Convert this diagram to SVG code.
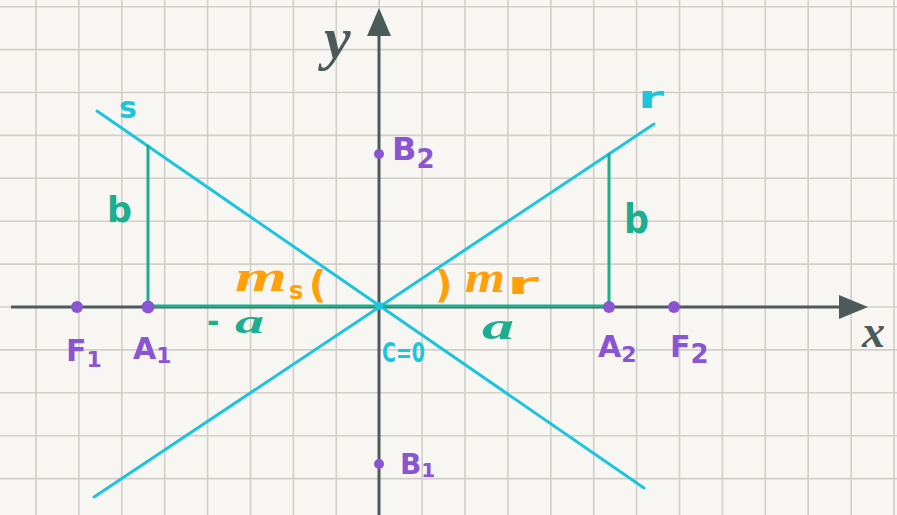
<svg xmlns="http://www.w3.org/2000/svg" width="897" height="515" viewBox="0 0 897 515">
<defs>
<style>
.grid{stroke:#d2cec8;stroke-width:1.6;fill:none}
.axis{stroke:#4c5a59;stroke-width:3;fill:none}
.axhead{fill:#4c5a59}
.asym{stroke:#1cc4de;stroke-width:3;fill:none;stroke-linecap:round}
.leg{stroke:#1bae8f;stroke-width:3;fill:none;stroke-linecap:round}
.pt{fill:#8a55d2}
.lbl{font-family:"DejaVu Sans","Liberation Sans",sans-serif;font-weight:bold}
.hand{font-family:"Liberation Serif",serif;font-style:italic;font-weight:bold}
.purple{fill:#8a55d2}
.cyan{fill:#1cc4de}
.green{fill:#1bae8f}
.orange{fill:#ff9f0a}
.dark{fill:#4c5a59}
</style>
</defs>
<rect width="897" height="515" fill="#f8f6f2"/>
<path class="grid" d="M36 0V515M78.9 0V515M121.8 0V515M164.7 0V515M207.6 0V515M250.5 0V515M293.4 0V515M336.3 0V515M379.2 0V515M422.1 0V515M465 0V515M507.9 0V515M550.8 0V515M593.7 0V515M636.6 0V515M679.5 0V515M722.4 0V515M765.3 0V515M808.2 0V515M851.1 0V515M894 0V515M0 6.7H897M0 49.6H897M0 92.5H897M0 135.4H897M0 178.3H897M0 221.2H897M0 264.1H897M0 307H897M0 349.9H897M0 392.8H897M0 435.7H897M0 478.6H897"/>
<g id="connectors">
<g id="x-axis"><path class="axis" d="M11 307H842"/><polygon class="axhead" points="839,295 868,307 839,319"/></g>
<g id="y-axis"><path class="axis" d="M379 515V34"/><polygon class="axhead" points="367,36 379,8 391,36"/></g>
<path id="line-s" class="asym" d="M97 111L644 488"/>
<path id="line-r" class="asym" d="M94 497L654 124"/>
<path id="leg-left" class="leg" d="M148 146V306H609"/>
<path id="leg-right" class="leg" d="M609 155V306"/>
</g>
<g id="axis-labels">
<text class="hand dark" x="324" y="58" font-size="60">y</text>
<text class="hand dark" x="862" y="347" font-size="46">x</text>
</g>
<g id="s-label"><text class="lbl cyan" x="119" y="118" font-size="30">s</text></g>
<g id="r-label"><text class="lbl cyan" x="638" y="108" font-size="30" textLength="26" lengthAdjust="spacingAndGlyphs">r</text></g>
<g id="C"><circle cx="379" cy="306" r="4" style="fill:#1cc4de"/><text class="lbl cyan" x="382" y="362" font-size="27" textLength="43" lengthAdjust="spacingAndGlyphs">C=0</text></g>
<g id="F1"><circle class="pt" cx="77" cy="307" r="6"/><text class="lbl purple" x="66" y="361" font-size="30">F<tspan font-size="22" dy="6">1</tspan></text></g>
<g id="A1"><circle class="pt" cx="148" cy="307" r="6.5"/><text class="lbl purple" x="133" y="359" font-size="30">A<tspan font-size="22" dy="4">1</tspan></text></g>
<g id="A2"><circle class="pt" cx="609" cy="307" r="6"/><text class="lbl purple" x="598" y="357" font-size="30">A<tspan font-size="22" dy="5">2</tspan></text></g>
<g id="F2"><circle class="pt" cx="674" cy="307" r="6"/><text class="lbl purple" x="670" y="357" font-size="30">F<tspan font-size="26" dy="6">2</tspan></text></g>
<g id="B2"><circle class="pt" cx="379" cy="154" r="5"/><text class="lbl purple" x="392" y="160" font-size="32">B<tspan font-size="26" dy="8">2</tspan></text></g>
<g id="B1"><circle class="pt" cx="379" cy="464" r="5"/><text class="lbl purple" x="400" y="474" font-size="28">B<tspan font-size="20" dy="3">1</tspan></text></g>
<g id="len-labels">
<text class="lbl green" x="207" y="332" font-size="30">-</text>
<text class="hand green" x="235" y="333" font-size="34" textLength="29" lengthAdjust="spacingAndGlyphs">a</text>
<text class="hand green" x="482" y="339" font-size="38" textLength="32" lengthAdjust="spacingAndGlyphs">a</text>
<text class="lbl green" x="107" y="222" font-size="36" textLength="25" lengthAdjust="spacingAndGlyphs">b</text>
<text class="lbl green" x="624" y="233" font-size="40" textLength="25" lengthAdjust="spacingAndGlyphs">b</text>
</g>
<g id="slope-s">
<text class="hand orange" x="235" y="291" font-size="44" textLength="52" lengthAdjust="spacingAndGlyphs">m</text>
<text class="lbl orange" x="289" y="299" font-size="24">s</text>
<text class="lbl orange" x="309" y="297" font-size="38">(</text>
</g>
<g id="slope-r">
<text class="lbl orange" x="435" y="297" font-size="38">)</text>
<text class="hand orange" x="465" y="292" font-size="44" textLength="40" lengthAdjust="spacingAndGlyphs">m</text>
<text class="lbl orange" x="507" y="294" font-size="30" textLength="32" lengthAdjust="spacingAndGlyphs">r</text>
</g>
</svg>
